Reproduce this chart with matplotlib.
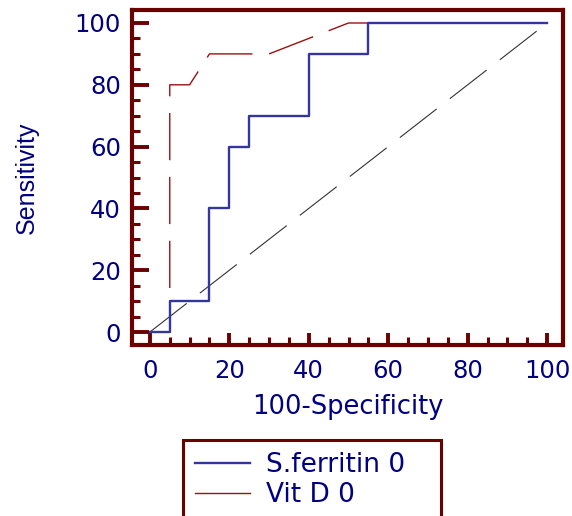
import numpy as np
import matplotlib.pyplot as plt
from matplotlib.ticker import MultipleLocator

plt.rcParams['font.family'] = ['DejaVu Sans']

# ROC points (100-Specificity, Sensitivity)
ferritin_x = [0, 5, 5, 15, 15, 20, 20, 25, 25, 40, 40, 55, 55, 100]
ferritin_y = [0, 0, 10, 10, 40, 40, 60, 60, 70, 70, 90, 90, 100, 100]
vitd_x = [0, 5, 5, 10, 15, 30, 50, 100]
vitd_y = [0, 0, 80, 80, 90, 90, 100, 100]
diag = [0, 100]

SPINE = "#6b0000"
NAVY = "#000080"

fig = plt.figure(figsize=(5.72, 5.16), dpi=100)
ax = fig.add_axes([0.2308, 0.3314, 0.7535, 0.6492])

ax.plot(diag, diag, color="#333333", lw=0.8, dashes=(42, 15), zorder=1)
ax.plot(vitd_x, vitd_y, color="#9b1010", lw=1.0, dashes=(34, 12), zorder=2,
        label="Vit D 0")
ax.plot(ferritin_x, ferritin_y, color="#3535a0", lw=1.7, zorder=3,
        label="S.ferritin 0")

ax.set_xlim(-4.5, 104)
ax.set_ylim(-4.2, 104.2)
ax.xaxis.set_major_locator(MultipleLocator(20))
ax.xaxis.set_minor_locator(MultipleLocator(5))
ax.yaxis.set_major_locator(MultipleLocator(20))
ax.yaxis.set_minor_locator(MultipleLocator(5))

for s in ax.spines.values():
    s.set_color(SPINE)
    s.set_linewidth(3)

ax.tick_params(which="both", direction="in", color=SPINE, top=False, right=False)
ax.tick_params(which="major", width=2.8, labelsize=17.5, labelcolor=NAVY)
ax.tick_params(which="minor", width=2.2)
ax.tick_params(axis="y", which="major", length=12, pad=8)
ax.tick_params(axis="y", which="minor", length=6)
ax.tick_params(axis="x", which="major", length=8.5, pad=10)
ax.tick_params(axis="x", which="minor", length=5.5)

ax.set_xlabel("100-Specificity", fontsize=18.5, color=NAVY, labelpad=8)
ax.set_ylabel("Sensitivity", fontsize=18, color=NAVY, labelpad=26,
              family="Liberation Sans")

h, l = ax.get_legend_handles_labels()
leg = fig.legend(h[::-1], l[::-1], loc="upper left", mode="expand",
                 bbox_to_anchor=(183 / 572, 0, 258 / 572, 1 - 440 / 516),
                 frameon=True, fancybox=False, framealpha=1, fontsize=19,
                 handlelength=2.1, handletextpad=0.6, borderpad=0.45,
                 labelspacing=0.15, borderaxespad=0)
leg.get_frame().set_edgecolor(SPINE)
leg.get_frame().set_linewidth(2.2)
for t in leg.get_texts():
    t.set_color(NAVY)
for ln in leg.get_lines():
    ln.set_linestyle("-")

fig.savefig("out.png", dpi=100)
